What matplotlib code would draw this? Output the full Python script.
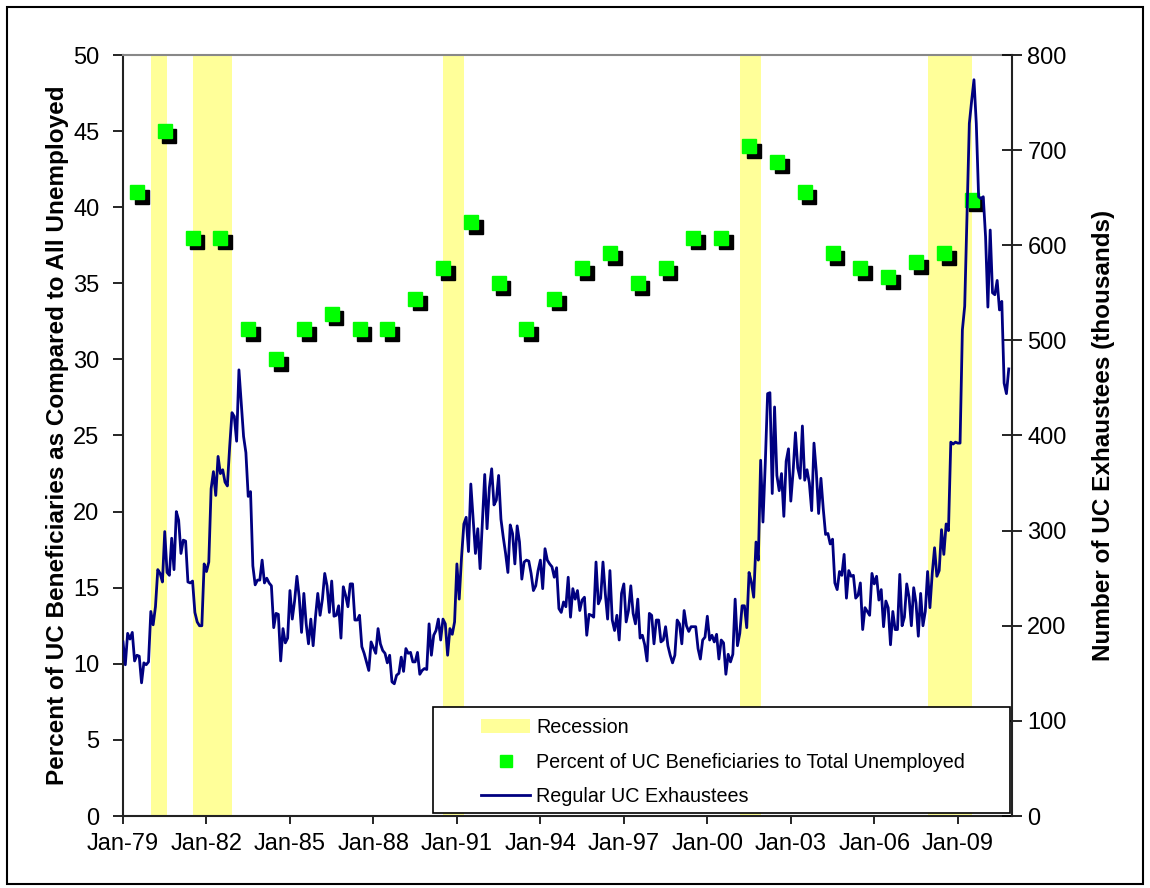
import numpy as np
import matplotlib
matplotlib.use("Agg")
import matplotlib.pyplot as plt
import matplotlib.transforms as mtransforms
from matplotlib.patches import Patch, Rectangle
from matplotlib.lines import Line2D

plt.rcParams["font.family"] = ["Liberation Sans", "DejaVu Sans"]

# monthly regular UC exhaustees (thousands), Jan-1979 onwards
exhaustees = [
    183, 159, 192, 186, 193, 163, 169, 168, 140, 161, 159, 162,
    215, 201, 220, 259, 255, 246, 299, 256, 253, 292, 259, 320,
    311, 276, 290, 289, 246, 245, 247, 214, 204, 200, 200, 265,
    257, 267, 344, 362, 337, 378, 360, 364, 351, 347, 388, 424,
    420, 394, 469, 434, 399, 382, 336, 341, 263, 243, 248, 248,
    269, 245, 250, 245, 242, 198, 213, 212, 163, 197, 182, 187,
    237, 207, 226, 252, 230, 193, 234, 202, 181, 207, 179, 209,
    234, 211, 228, 255, 242, 214, 247, 210, 211, 221, 187, 241,
    232, 220, 244, 244, 206, 206, 211, 178, 171, 162, 153, 183,
    177, 171, 197, 181, 174, 171, 161, 169, 141, 139, 148, 150,
    167, 152, 176, 171, 172, 162, 162, 172, 149, 153, 155, 154,
    202, 169, 190, 195, 207, 185, 207, 202, 169, 197, 191, 204,
    265, 228, 272, 307, 314, 278, 349, 313, 276, 302, 260, 309,
    359, 302, 345, 365, 327, 332, 358, 312, 293, 276, 256, 306,
    297, 265, 305, 288, 249, 267, 269, 268, 255, 237, 242, 258,
    269, 239, 281, 269, 265, 262, 251, 261, 218, 214, 225, 220,
    251, 209, 239, 228, 237, 216, 227, 230, 190, 212, 211, 209,
    267, 223, 229, 267, 234, 207, 258, 206, 195, 211, 185, 234,
    244, 204, 216, 242, 213, 202, 228, 187, 190, 180, 163, 213,
    211, 181, 206, 206, 183, 185, 199, 179, 169, 161, 169, 206,
    202, 181, 216, 200, 194, 199, 199, 199, 176, 165, 185, 188,
    210, 185, 190, 183, 191, 165, 185, 182, 149, 170, 162, 170,
    228, 179, 192, 221, 221, 198, 256, 246, 230, 288, 269, 374,
    309, 371, 444, 445, 339, 430, 358, 342, 360, 315, 373, 386,
    331, 362, 403, 366, 355, 410, 353, 364, 350, 321, 392, 362,
    318, 355, 323, 296, 297, 286, 291, 245, 238, 257, 253, 275,
    229, 258, 252, 253, 229, 232, 245, 196, 219, 215, 211, 255,
    244, 252, 227, 238, 199, 226, 219, 180, 215, 196, 196, 254,
    200, 209, 244, 230, 200, 240, 224, 189, 234, 200, 215, 257,
    219, 255, 282, 252, 258, 301, 275, 307, 300, 393, 391, 393,
    392, 392, 511, 536, 634, 728, 752, 774, 728, 651, 649, 651,
    609, 535, 616, 550, 548, 563, 532, 541, 455, 444, 470,
]

# annual share of UC beneficiaries among all unemployed (%)
pct_years = list(range(1979, 2010))
pct_values = [41, 45, 38, 38, 32, 30, 32, 33, 32, 32, 34, 36, 39, 35, 32, 34,
              36, 37, 35, 36, 38, 38, 44, 43, 41, 37, 36, 35.4, 36.4, 37, 40.5]

# recessions (start, end) as (year, month)
recessions = [((1980, 1), (1980, 7)), ((1981, 7), (1982, 11)),
              ((1990, 7), (1991, 3)), ((2001, 3), (2001, 11)),
              ((2007, 12), (2009, 6))]

tick_years = list(range(1979, 2010, 3))
tick_labels = ["Jan-%02d" % (y % 100) for y in tick_years]

t_months = 1979 + np.arange(len(exhaustees)) / 12.0
t_pct = np.array(pct_years) + 0.5

fig = plt.figure(figsize=(11.5, 8.88), dpi=100)
fig.patches.append(Rectangle((7 / 1150, 4 / 888), 1136 / 1150, 877 / 888,
                             transform=fig.transFigure, fill=False,
                             edgecolor="black", linewidth=1.5))

ax = fig.add_axes([123 / 1150, 72 / 888, 889 / 1150, 761 / 888])
ax2 = ax.twinx()

for (y0, m0), (y1, m1) in recessions:
    ax.axvspan(y0 + (m0 - 1) / 12, y1 + m1 / 12, color="#FFFF99", lw=0, zorder=0)

shadow = mtransforms.offset_copy(ax.transData, fig=fig, x=4.7, y=-4.7, units="dots")
ax.plot(t_pct, pct_values, ls="none", marker="s", ms=10, color="black",
        transform=shadow, zorder=3)
ax.plot(t_pct, pct_values, ls="none", marker="s", ms=10, color="#00FF00",
        mec="#00FF00", zorder=4)

ax2.plot(t_months, exhaustees, color="#000080", lw=2.0, zorder=3)

ax.set_xlim(1979, 2010.95)
ax.set_ylim(0, 50)
ax2.set_ylim(0, 800)
ax.set_xticks(tick_years)
ax.set_xticklabels(tick_labels)
ax.set_yticks(range(0, 51, 5))
ax2.set_yticks(range(0, 801, 100))

for s in ["left", "bottom"]:
    ax.spines[s].set_color("#222222")
    ax.spines[s].set_linewidth(1.5)
ax.spines["top"].set_color("#888888")
ax.spines["top"].set_linewidth(1.5)
ax.spines["right"].set_visible(False)
for s in ["left", "bottom", "top"]:
    ax2.spines[s].set_visible(False)
ax2.spines["right"].set_color("#222222")
ax2.spines["right"].set_linewidth(1.5)

ax.tick_params(axis="y", direction="out", length=7, width=1.2, labelsize=17, pad=10)
ax.tick_params(axis="x", direction="out", length=6, width=1.2, labelsize=17, pad=6)
ax2.tick_params(axis="y", direction="inout", length=14, width=1.2, labelsize=17, pad=4)

ax.set_ylabel("Percent of UC Beneficiaries as Compared to All Unemployed",
              fontsize=17.5, fontweight="bold", labelpad=3)
ax2.set_ylabel("Number of UC Exhaustees (thousands)",
               fontsize=17.5, fontweight="bold", labelpad=18)

# legend box
ax2.add_patch(Rectangle((0.349, 0.004), 0.649, 0.139, transform=ax2.transAxes,
                        facecolor="white", edgecolor="black", lw=1.2, zorder=5))
handles = [
    Patch(facecolor="#FFFF99", edgecolor="none"),
    Line2D([], [], ls="none", marker="s", ms=9, color="#00FF00"),
    Line2D([], [], color="#000080", lw=2.0),
]
labels = ["Recession", "Percent of UC Beneficiaries to Total Unemployed",
          "Regular UC Exhaustees"]
leg = ax2.legend(handles, labels, loc="upper left", bbox_to_anchor=(0.4027, 0.1284),
                 frameon=False, fontsize=14.2, borderpad=0, handlelength=2.5,
                 handletextpad=0.3, labelspacing=0.78, borderaxespad=0)
leg.set_zorder(6)

fig.savefig("out.png", dpi=100)
